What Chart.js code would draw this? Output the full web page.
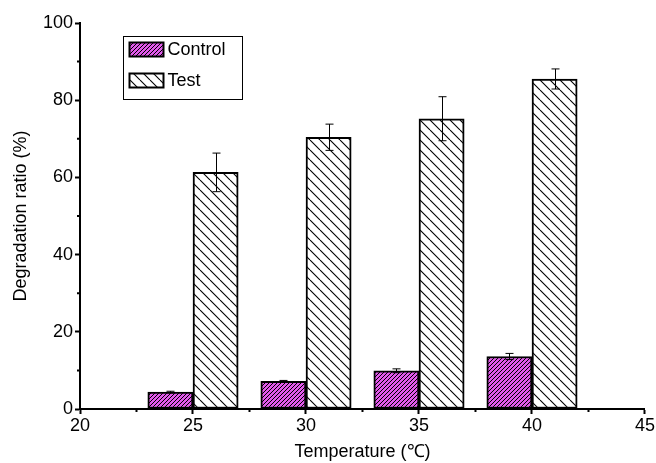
<!DOCTYPE html>
<html>
<head>
<meta charset="utf-8">
<script src="https://cdn.jsdelivr.net/npm/chart.js@4"></script>
<style>
  html, body { margin: 0; padding: 0; background: #fff; }
  #wrap { width: 656px; height: 463px; }
</style>
</head>
<body>
<div id="wrap"><canvas id="c" width="656" height="463"></canvas></div>
<script>
// ---- data ----
const temperatures = [25, 30, 35, 40];
const controlValues = [4.4, 7.2, 9.9, 13.6];
const controlErrors = [0.2, 0.2, 0.5, 0.8];
const testValues = [61.3, 70.4, 75.2, 85.5];
const testErrors = [5.0, 3.4, 5.7, 2.6];
const seriesNames = ['Control', 'Test'];
const xTickValues = [20, 25, 30, 35, 40, 45];
const yTickValues = [0, 20, 40, 60, 80, 100];
const xTitle = 'Temperature (\u2103)';
const yTitle = 'Degradation ratio (%)';

const FONT = '"Liberation Sans", Arial, sans-serif';
const FS = 18;

function makeHatch(bg, spacing, dir, lw) {
  const c = document.createElement('canvas');
  c.width = spacing; c.height = spacing;
  const g = c.getContext('2d');
  g.fillStyle = bg;
  g.fillRect(0, 0, spacing, spacing);
  g.strokeStyle = '#000';
  g.lineWidth = lw;
  g.beginPath();
  for (let k = -1; k <= 1; k++) {
    if (dir === '/') {
      g.moveTo(k * spacing, spacing);
      g.lineTo(k * spacing + spacing, 0);
    } else {
      g.moveTo(k * spacing, 0);
      g.lineTo(k * spacing + spacing, spacing);
    }
  }
  g.stroke();
  return g.createPattern(c, 'repeat');
}

const ctx = document.getElementById('c').getContext('2d');
const controlPattern = makeHatch('#e159ea', 4, '/', 1);
const testPattern = makeHatch('#ffffff', 10, '\\', 1.1);

const errorsByDataset = [controlErrors, testErrors];

const errorBarPlugin = {
  id: 'errorBars',
  afterDatasetsDraw(chart) {
    const g = chart.ctx;
    const ys = chart.scales.y;
    chart.data.datasets.forEach((ds, di) => {
      const meta = chart.getDatasetMeta(di);
      const errs = errorsByDataset[di];
      meta.data.forEach((el, i) => {
        const v = ds.data[i].y;
        const e = errs[i];
        const x = Math.round(el.x) + 0.5;
        const yt = ys.getPixelForValue(v + e);
        const yb = ys.getPixelForValue(v - e);
        g.save();
        g.strokeStyle = '#000';
        g.lineWidth = 1;
        g.beginPath();
        g.moveTo(x, yt); g.lineTo(x, yb);
        g.moveTo(x - 4, yt); g.lineTo(x + 4, yt);
        g.moveTo(x - 4, yb); g.lineTo(x + 4, yb);
        g.stroke();
        g.restore();
      });
    });
  }
};

const minorTickPlugin = {
  id: 'minorTicks',
  afterDraw(chart) {
    const g = chart.ctx;
    const xs = chart.scales.x, ys = chart.scales.y;
    const area = chart.chartArea;
    g.save();
    g.strokeStyle = '#000';
    g.lineWidth = 2;
    g.beginPath();
    for (let i = 0; i < xTickValues.length - 1; i++) {
      const px = xs.getPixelForValue((xTickValues[i] + xTickValues[i + 1]) / 2);
      g.moveTo(px, area.bottom);
      g.lineTo(px, area.bottom + 3);
    }
    for (let i = 0; i < yTickValues.length - 1; i++) {
      const py = ys.getPixelForValue((yTickValues[i] + yTickValues[i + 1]) / 2);
      g.moveTo(area.left, py);
      g.lineTo(area.left - 3, py);
    }
    g.stroke();
    g.restore();
  }
};

const legendPlugin = {
  id: 'boxLegend',
  afterDraw(chart) {
    const g = chart.ctx;
    const area = chart.chartArea;
    const bx = area.left + 43.5, by = area.top + 13.5, bw = 119, bh = 63;
    g.save();
    g.fillStyle = '#fff';
    g.fillRect(bx, by, bw, bh);
    g.strokeStyle = '#000';
    g.lineWidth = 1;
    g.strokeRect(bx, by, bw, bh);
    chart.data.datasets.forEach((ds, i) => {
      const sy = by + 6 + i * 31;
      const sx = bx + 6;
      g.fillStyle = ds.backgroundColor;
      g.fillRect(sx, sy, 34, 14);
      g.lineWidth = 2;
      g.strokeStyle = '#000';
      g.strokeRect(sx, sy, 34, 14);
      g.fillStyle = '#000';
      g.font = FS + 'px ' + FONT;
      g.textBaseline = 'middle';
      g.textAlign = 'left';
      g.fillText(ds.label, sx + 38, sy + 8);
    });
    g.restore();
  }
};

new Chart(ctx, {
  type: 'bar',
  data: {
    datasets: [
      {
        label: seriesNames[0],
        data: temperatures.map((t, i) => ({ x: t - 1, y: controlValues[i] })),
        backgroundColor: controlPattern,
        borderColor: '#000',
        borderWidth: 2,
        borderSkipped: false,
        grouped: false,
        barPercentage: 1,
        categoryPercentage: 1
      },
      {
        label: seriesNames[1],
        data: temperatures.map((t, i) => ({ x: t + 1, y: testValues[i] })),
        backgroundColor: testPattern,
        borderColor: '#000',
        borderWidth: 2,
        borderSkipped: false,
        grouped: false,
        barPercentage: 1,
        categoryPercentage: 1
      }
    ]
  },
  options: {
    responsive: false,
    animation: false,
    devicePixelRatio: 1,
    layout: { padding: { top: 23, right: 11, left: 0, bottom: 0 } },
    plugins: {
      legend: { display: false },
      tooltip: { enabled: false },
      title: { display: false }
    },
    scales: {
      x: {
        type: 'linear',
        min: xTickValues[0],
        max: xTickValues[xTickValues.length - 1],
        offset: false,
        afterBuildTicks(scale) { scale.ticks = xTickValues.map(v => ({ value: v })); },
        afterFit(scale) { scale.height = 54; },
        grid: { display: true, drawOnChartArea: false, drawTicks: true, tickLength: 5, tickColor: '#000', tickWidth: 2, offset: false },
        border: { display: true, color: '#000', width: 2 },
        ticks: { color: '#000', font: { family: FONT, size: FS }, padding: 1, maxRotation: 0, autoSkip: false },
        title: { display: true, text: xTitle, color: '#000', font: { family: FONT, size: FS }, padding: { top: 0, bottom: 0 } }
      },
      y: {
        type: 'linear',
        min: yTickValues[0],
        max: yTickValues[yTickValues.length - 1],
        afterBuildTicks(scale) { scale.ticks = yTickValues.map(v => ({ value: v })); },
        afterFit(scale) { scale.width = 80; },
        grid: { display: true, drawOnChartArea: false, drawTicks: true, tickLength: 5, tickColor: '#000', tickWidth: 2 },
        border: { display: true, color: '#000', width: 2 },
        ticks: { color: '#000', font: { family: FONT, size: FS }, padding: 2 },
        title: { display: true, text: yTitle, color: '#000', font: { family: FONT, size: FS }, padding: { top: 10, bottom: 0 } }
      }
    }
  },
  plugins: [errorBarPlugin, minorTickPlugin, legendPlugin]
});
</script>
</body>
</html>
